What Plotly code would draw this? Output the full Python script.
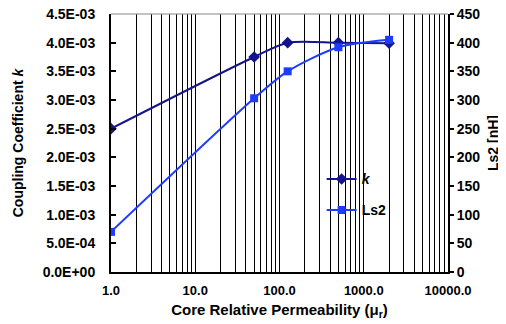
import plotly.graph_objects as go

# data
permeability = [1.0, 50.0, 125.0, 500.0, 2000.0]
k_values = [2.5e-3, 3.75e-3, 4.0e-3, 4.0e-3, 3.99e-3]
ls2_values = [70, 303, 350, 392, 405]

y_left_ticks = [0, 0.5e-3, 1.0e-3, 1.5e-3, 2.0e-3, 2.5e-3, 3.0e-3, 3.5e-3, 4.0e-3, 4.5e-3]
y_left_text = ["0.0E+00", "5.0E-04", "1.0E-03", "1.5E-03", "2.0E-03", "2.5E-03",
               "3.0E-03", "3.5E-03", "4.0E-03", "4.5E-03"]
x_major = [1, 10, 100, 1000, 10000]
x_major_text = ["1.0", "10.0", "100.0", "1000.0", "10000.0"]

x_tickvals, x_ticktext = [], []
for d, lab in zip(x_major, x_major_text):
    if d == 10000:
        x_tickvals.append(d); x_ticktext.append(lab)
        continue
    for m in range(1, 10):
        x_tickvals.append(d * m)
        x_ticktext.append(lab if m == 1 else "")

FONT = "Liberation Sans, Arial, sans-serif"
K_COLOR = "#14148c"
LS_COLOR = "#1e3cff"

fig = go.Figure()
fig.add_trace(go.Scatter(
    x=permeability, y=k_values, name="<i>k</i>", mode="lines+markers",
    line=dict(color=K_COLOR, width=2, shape="spline", smoothing=0.8),
    marker=dict(symbol="diamond", size=9, color=K_COLOR),
    yaxis="y", legend="legend", showlegend=True))
fig.add_trace(go.Scatter(
    x=permeability, y=ls2_values, name="Ls2", mode="lines+markers",
    line=dict(color=LS_COLOR, width=2, shape="spline", smoothing=0.8),
    marker=dict(symbol="square", size=8, color=LS_COLOR),
    yaxis="y2", legend="legend2", showlegend=True))

fig.update_layout(
    width=506, height=324,
    margin=dict(l=103, r=66, t=6, b=60, autoexpand=False),
    paper_bgcolor="white", plot_bgcolor="white",
    font=dict(family=FONT, size=12, color="black"),
    xaxis=dict(type="log", range=[0, 4], tickvals=x_tickvals, ticktext=x_ticktext,
               showgrid=True, gridcolor="black", gridwidth=1,
               showline=True, linecolor="black", linewidth=2, ticks="",
               zeroline=False, automargin=False, ticklabelstandoff=5,
               ticklabeloverflow="allow",
               tickfont=dict(family=FONT, size=13, color="black", weight="bold"),
               title=dict(text="Core Relative Permeability (μ<sub>r</sub>)",
                          font=dict(family=FONT, size=15, color="black", weight="bold"),
                          standoff=8)),
    yaxis=dict(range=[0, 4.5e-3], tickvals=y_left_ticks, ticktext=y_left_text,
               showgrid=False, zeroline=False, automargin=False,
               showline=True, linecolor="black", linewidth=2,
               ticks="inside", ticklen=5, tickwidth=2, tickcolor="black",
               ticklabelstandoff=11, ticklabeloverflow="allow",
               tickfont=dict(family=FONT, size=14, color="black", weight="bold"),
               title=dict(text="Coupling Coefficient <i>k</i>",
                          font=dict(family=FONT, size=14, color="black", weight="bold"),
                          standoff=16)),
    yaxis2=dict(range=[0, 450], dtick=50, overlaying="y", side="right",
                showgrid=False, zeroline=False, automargin=False,
                showline=True, linecolor="black", linewidth=2,
                ticks="outside", ticklen=4, tickwidth=2, tickcolor="black",
                ticklabeloverflow="allow",
                tickfont=dict(family=FONT, size=14, color="black", weight="bold"),
                title=dict(text="Ls2 [nH]",
                           font=dict(family=FONT, size=14, color="black", weight="bold"),
                           standoff=9)),
    legend=dict(x=0.625, y=0.359, xanchor="left", yanchor="middle",
                bgcolor="rgba(0,0,0,0)", borderwidth=0,
                font=dict(family=FONT, size=14, color="black", weight="bold")),
    legend2=dict(x=0.625, y=0.239, xanchor="left", yanchor="middle",
                 bgcolor="rgba(0,0,0,0)", borderwidth=0,
                 font=dict(family=FONT, size=14, color="black", weight="bold")),
    shapes=[dict(type="line", xref="paper", yref="paper", x0=0, x1=1, y0=1, y1=1,
                 line=dict(color="#888888", width=1))],
)

fig.write_html("out.html")
